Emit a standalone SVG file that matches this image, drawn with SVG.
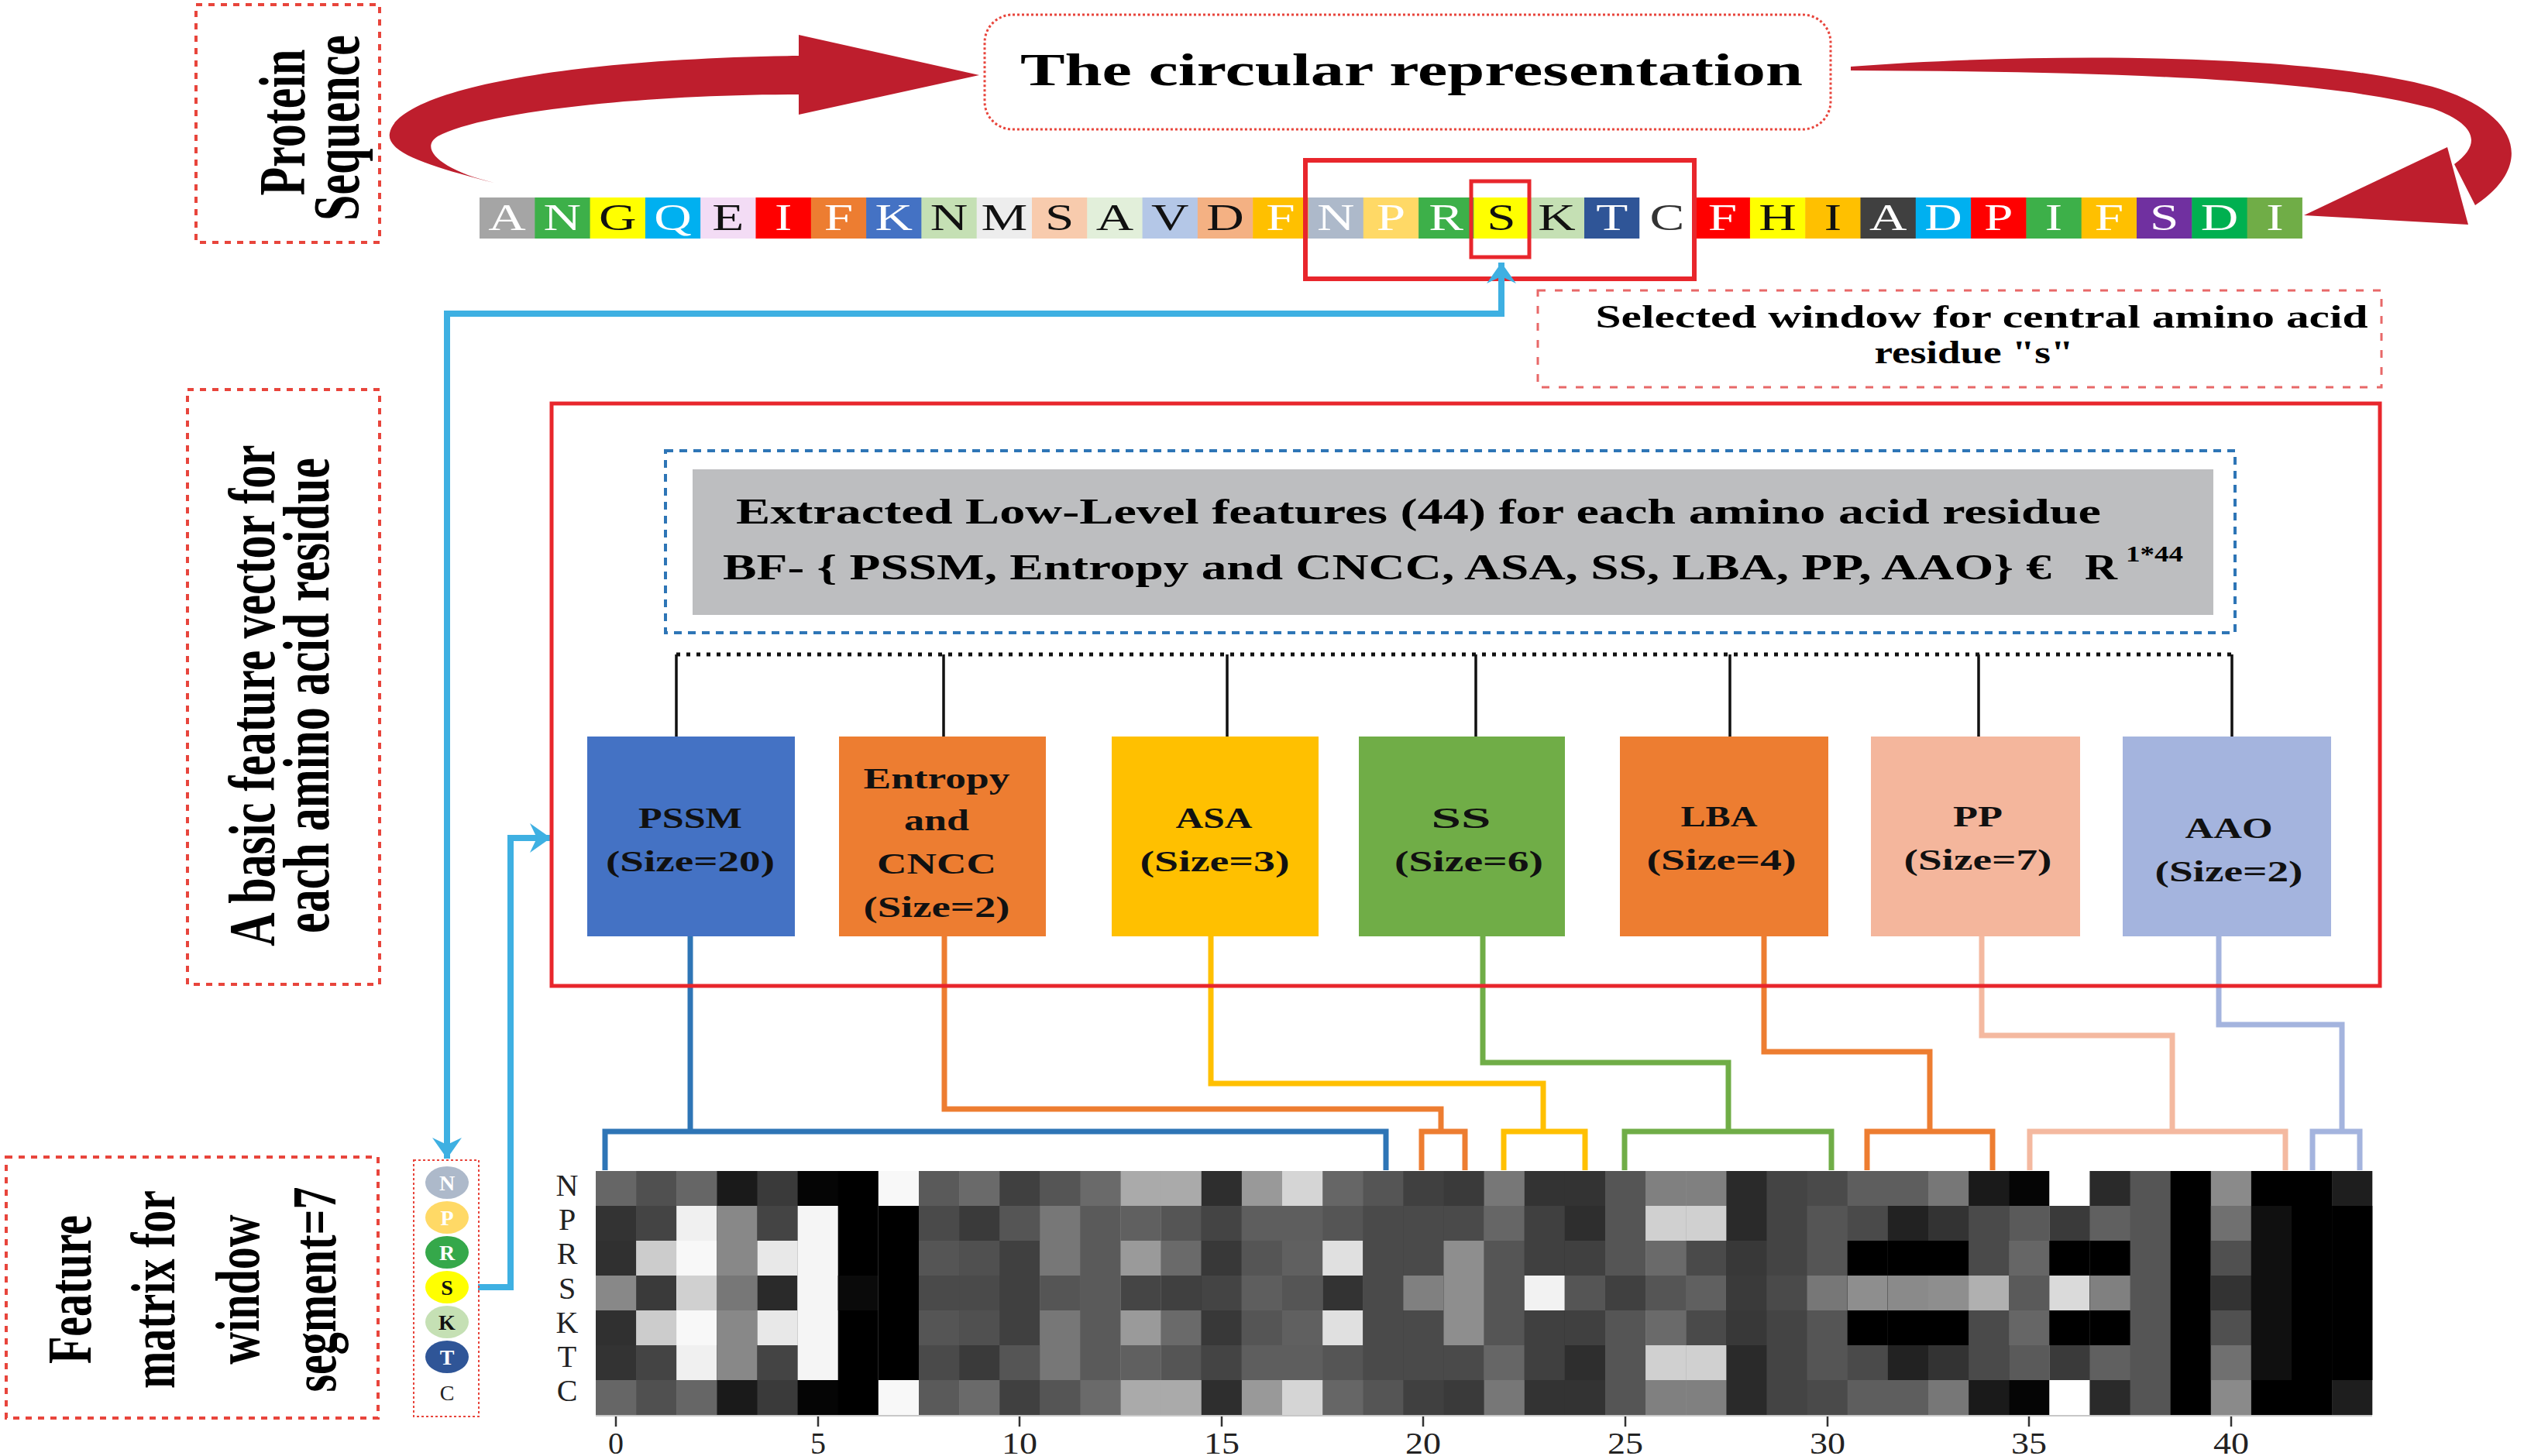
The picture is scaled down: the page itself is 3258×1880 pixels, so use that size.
<svg xmlns="http://www.w3.org/2000/svg" width="3258" height="1880" viewBox="0 0 3258 1880">
<style>
text{font-family:"Liberation Serif","Times New Roman",serif;}
.b{font-weight:bold;}
.lbl{fill:none;stroke:#E8453C;stroke-width:4;stroke-dasharray:8 8;}
.rot{font-weight:bold;font-size:60px;text-anchor:middle;fill:#000;}
.seq text{font-size:48px;text-anchor:middle;}
.w{fill:#fff;}
.k{fill:#111;}
.fb{font-weight:bold;font-size:38px;text-anchor:middle;fill:#111;}
.blue{fill:none;stroke:#3EB0E2;stroke-width:8;}
.dg{fill:none;stroke-width:7;}
.blk{stroke:#111;stroke-width:3.5;fill:none;}
.rl{font-size:40px;text-anchor:middle;fill:#222;}
.tick{stroke:#333;stroke-width:2.5;}
.res text{font-weight:bold;font-size:28px;text-anchor:middle;}
</style>
<defs>
<marker id="ab" markerUnits="userSpaceOnUse" viewBox="0 0 28 38" markerWidth="28" markerHeight="38" refX="27" refY="19" orient="auto">
<path d="M0,0 L27,19 L0,38 L9,19 Z" fill="#3EB0E2"/>
</marker>
</defs>
<rect width="3258" height="1880" fill="#fff"/>

<!-- label boxes -->
<g id="protein-sequence-label">
<rect x="253" y="6" width="237" height="307" class="lbl"/>
<text class="rot" transform="translate(393,158) rotate(-90) scale(1,1.4)">Protein</text>
<text class="rot" transform="translate(463,165) rotate(-90) scale(1,1.4)">Sequence</text>
</g>
<g id="basic-feature-label">
<rect x="242" y="503" width="248" height="768" class="lbl"/>
<text class="rot" transform="translate(354,898) rotate(-90) scale(1,1.4)">A basic feature vector for</text>
<text class="rot" transform="translate(424,898) rotate(-90) scale(1,1.4)">each amino acid residue</text>
</g>
<g id="feature-matrix-label">
<rect x="8" y="1494" width="480" height="337" class="lbl"/>
<text class="rot" style="font-size:58px" transform="translate(117,1665) rotate(-90) scale(1,1.4)">Feature</text>
<text class="rot" style="font-size:58px" transform="translate(225,1665) rotate(-90) scale(1,1.4)">matrix for</text>
<text class="rot" style="font-size:58px" transform="translate(334,1665) rotate(-90) scale(1,1.4)">window</text>
<text class="rot" style="font-size:58px" transform="translate(433,1665) rotate(-90) scale(1,1.4)">segment=7</text>
</g>

<!-- circular arrows -->
<g id="circular-arrows" fill="#BE1E2D">
<path d="M638,236 C560,216 498,198 503,172 C512,118 720,76 1031,72 L1031,122 C820,122 620,146 565,176 C540,192 570,220 638,236 Z"/>
<path d="M1031,45 L1264,97 L1031,148 Z"/>
<path d="M2389,86 C2650,66 3000,70 3150,115 C3255,150 3270,215 3195,265 L3168,212 C3205,185 3195,160 3140,140 C2990,98 2660,92 2389,91 Z"/>
<path d="M2974,278 L3159,190 L3186,290 Z"/>
</g>

<g id="circular-representation">
<rect x="1271" y="19" width="1092" height="148" rx="36" fill="none" stroke="#E8453C" stroke-width="3" stroke-dasharray="3 3"/>
<text class="b" x="1317" y="110" font-size="60" textLength="1010" lengthAdjust="spacingAndGlyphs">The circular representation</text>
</g>

<!-- sequence -->
<g id="sequence">
<rect x="619.0" y="255" width="71.8" height="53" fill="#A5A5A5"/>
<rect x="690.3" y="255" width="71.8" height="53" fill="#3DB049"/>
<rect x="761.6" y="255" width="71.8" height="53" fill="#FFFF00"/>
<rect x="832.9" y="255" width="71.8" height="53" fill="#00B0F0"/>
<rect x="904.2" y="255" width="71.8" height="53" fill="#F3DCF5"/>
<rect x="975.5" y="255" width="71.8" height="53" fill="#FF0000"/>
<rect x="1046.8" y="255" width="71.8" height="53" fill="#ED7D31"/>
<rect x="1118.1" y="255" width="71.8" height="53" fill="#4472C4"/>
<rect x="1189.4" y="255" width="71.8" height="53" fill="#C5E0B4"/>
<rect x="1260.7" y="255" width="71.8" height="53" fill="#EDEDED"/>
<rect x="1332.0" y="255" width="71.8" height="53" fill="#F8CBAD"/>
<rect x="1403.3" y="255" width="71.8" height="53" fill="#E2EFDA"/>
<rect x="1474.6" y="255" width="71.8" height="53" fill="#B4C7E7"/>
<rect x="1545.9" y="255" width="71.8" height="53" fill="#F4B183"/>
<rect x="1617.2" y="255" width="71.8" height="53" fill="#FFC000"/>
<rect x="1688.5" y="255" width="71.8" height="53" fill="#ADB9CA"/>
<rect x="1759.8" y="255" width="71.8" height="53" fill="#FFD966"/>
<rect x="1831.1" y="255" width="71.8" height="53" fill="#3DB049"/>
<rect x="1902.4" y="255" width="71.8" height="53" fill="#FFFF00"/>
<rect x="1973.7" y="255" width="71.8" height="53" fill="#C5E0B4"/>
<rect x="2045.0" y="255" width="71.8" height="53" fill="#2F5597"/>
<rect x="2116.3" y="255" width="71.8" height="53" fill="#FFFFFF"/>
<rect x="2187.6" y="255" width="71.8" height="53" fill="#FF0000"/>
<rect x="2258.9" y="255" width="71.8" height="53" fill="#FFFF00"/>
<rect x="2330.2" y="255" width="71.8" height="53" fill="#FFC000"/>
<rect x="2401.5" y="255" width="71.8" height="53" fill="#404040"/>
<rect x="2472.8" y="255" width="71.8" height="53" fill="#00B0F0"/>
<rect x="2544.1" y="255" width="71.8" height="53" fill="#FF0000"/>
<rect x="2615.4" y="255" width="71.8" height="53" fill="#3DB049"/>
<rect x="2686.7" y="255" width="71.8" height="53" fill="#FFC000"/>
<rect x="2758.0" y="255" width="71.8" height="53" fill="#7030A0"/>
<rect x="2829.3" y="255" width="71.8" height="53" fill="#00B050"/>
<rect x="2900.6" y="255" width="71.3" height="53" fill="#70AD47"/>
<g class="seq" transform="scale(1.4,1)">
<text x="467.6" y="297" class="w">A</text>
<text x="518.5" y="297" class="w">N</text>
<text x="569.5" y="297" class="k">G</text>
<text x="620.4" y="297" class="w">Q</text>
<text x="671.3" y="297" class="k">E</text>
<text x="722.3" y="297" class="w">I</text>
<text x="773.2" y="297" class="w">F</text>
<text x="824.1" y="297" class="w">K</text>
<text x="875.0" y="297" class="k">N</text>
<text x="926.0" y="297" class="k">M</text>
<text x="976.9" y="297" class="k">S</text>
<text x="1027.8" y="297" class="k">A</text>
<text x="1078.8" y="297" class="k">V</text>
<text x="1129.7" y="297" class="k">D</text>
<text x="1180.6" y="297" class="w">F</text>
<text x="1231.6" y="297" class="w">N</text>
<text x="1282.5" y="297" class="w">P</text>
<text x="1333.4" y="297" class="w">R</text>
<text x="1384.3" y="297" class="k">S</text>
<text x="1435.3" y="297" class="k">K</text>
<text x="1486.2" y="297" class="w">T</text>
<text x="1537.1" y="297" fill="#333">C</text>
<text x="1588.1" y="297" class="w">F</text>
<text x="1639.0" y="297" class="k">H</text>
<text x="1689.9" y="297" class="k">I</text>
<text x="1740.9" y="297" class="w">A</text>
<text x="1791.8" y="297" class="w">D</text>
<text x="1842.7" y="297" class="w">P</text>
<text x="1893.6" y="297" class="w">I</text>
<text x="1944.6" y="297" class="w">F</text>
<text x="1995.5" y="297" class="w">S</text>
<text x="2046.4" y="297" class="w">D</text>
<text x="2097.4" y="297" class="w">I</text>
</g>
</g>

<g id="selected-window">
<rect x="1685" y="207" width="502" height="153" fill="none" stroke="#E8262C" stroke-width="6"/>
<rect x="1899" y="234" width="75" height="98" fill="none" stroke="#E8262C" stroke-width="5"/>
</g>

<g id="selected-window-note">
<rect x="1985" y="375" width="1089" height="125" fill="none" stroke="#E86868" stroke-width="3" stroke-dasharray="10 12"/>
<text class="b" x="2558" y="423" font-size="42" text-anchor="middle" textLength="997" lengthAdjust="spacingAndGlyphs">Selected window for central amino acid</text>
<text class="b" x="2548" y="469" font-size="42" text-anchor="middle" textLength="257" lengthAdjust="spacingAndGlyphs">residue "s"</text>
</g>

<!-- connectors -->
<g id="connectors">
<path class="blue" d="M577,405 H1938 V339" marker-end="url(#ab)"/>
<path class="blue" d="M577,401 V1496" marker-end="url(#ab)"/>
<path class="blue" d="M617,1662 H659 V1082 H711" marker-end="url(#ab)"/>
<path d="M873,845 H2881" stroke="#111" stroke-width="5" stroke-dasharray="5 8" fill="none"/>
<path class="blk" d="M873,845 V951 M1218,845 V951 M1584,845 V951 M1905,845 V951 M2233,845 V951 M2554,845 V951 M2881,845 V951"/>
<path class="dg" stroke="#2E75B6" d="M891,1209 V1461 M781,1511 V1461 H1789 V1511"/>
<path class="dg" stroke="#ED7D31" d="M1219,1209 V1432 H1860 V1461 M1835,1511 V1461 H1891 V1511"/>
<path class="dg" stroke="#FFC000" d="M1563,1209 V1399 H1992 V1461 M1941,1511 V1461 H2046 V1511"/>
<path class="dg" stroke="#70AD47" d="M1914,1209 V1372 H2231 V1461 M2097,1511 V1461 H2364 V1511"/>
<path class="dg" stroke="#ED7D31" d="M2277,1209 V1358 H2491 V1461 M2410,1511 V1461 H2572 V1511"/>
<path class="dg" stroke="#F4B9A0" d="M2558,1209 V1337 H2804 V1461 M2620,1511 V1461 H2950 V1511"/>
<path class="dg" stroke="#A4B4DE" d="M2864,1209 V1323 H3023 V1461 M2985,1511 V1461 H3046 V1511"/>
</g>

<g id="basic-feature-frame">
<rect x="712" y="521" width="2360" height="752" fill="none" stroke="#E8262C" stroke-width="5"/>
</g>

<g id="low-level-features">
<rect x="859" y="582" width="2026" height="235" fill="none" stroke="#2E75B6" stroke-width="4" stroke-dasharray="10 8"/>
<rect x="894" y="606" width="1963" height="188" fill="#BDBEC0"/>
<text class="b" x="950" y="676" font-size="46" textLength="1762" lengthAdjust="spacingAndGlyphs">Extracted Low-Level features (44) for each amino acid residue</text>
<text class="b" x="933" y="748" font-size="46" textLength="1715" lengthAdjust="spacingAndGlyphs">BF- { PSSM, Entropy and CNCC, ASA, SS, LBA, PP, AAO} €</text>
<text class="b" x="2691" y="748" font-size="46" textLength="42" lengthAdjust="spacingAndGlyphs">R</text>
<text class="b" x="2744" y="725" font-size="30" textLength="74" lengthAdjust="spacingAndGlyphs">1*44</text>
</g>

<g id="pssm"><rect x="758" y="951" width="268" height="258" fill="#4472C4"/>
<text class="fb" x="891" y="1069" textLength="134" lengthAdjust="spacingAndGlyphs">PSSM</text>
<text class="fb" x="891" y="1125" textLength="218" lengthAdjust="spacingAndGlyphs">(Size=20)</text></g>
<g id="entropy-cncc"><rect x="1083" y="951" width="267" height="258" fill="#ED7D31"/>
<text class="fb" x="1209" y="1018" textLength="189" lengthAdjust="spacingAndGlyphs">Entropy</text>
<text class="fb" x="1209" y="1072" textLength="84" lengthAdjust="spacingAndGlyphs">and</text>
<text class="fb" x="1209" y="1128" textLength="154" lengthAdjust="spacingAndGlyphs">CNCC</text>
<text class="fb" x="1209" y="1184" textLength="189" lengthAdjust="spacingAndGlyphs">(Size=2)</text></g>
<g id="asa"><rect x="1435" y="951" width="267" height="258" fill="#FFC000"/>
<text class="fb" x="1567" y="1069" textLength="99" lengthAdjust="spacingAndGlyphs">ASA</text>
<text class="fb" x="1568" y="1125" textLength="193" lengthAdjust="spacingAndGlyphs">(Size=3)</text></g>
<g id="ss"><rect x="1754" y="951" width="266" height="258" fill="#70AD47"/>
<text class="fb" x="1886" y="1069" textLength="77" lengthAdjust="spacingAndGlyphs">SS</text>
<text class="fb" x="1896" y="1125" textLength="192" lengthAdjust="spacingAndGlyphs">(Size=6)</text></g>
<g id="lba"><rect x="2091" y="951" width="269" height="258" fill="#ED7D31"/>
<text class="fb" x="2219" y="1067" textLength="99" lengthAdjust="spacingAndGlyphs">LBA</text>
<text class="fb" x="2222" y="1123" textLength="193" lengthAdjust="spacingAndGlyphs">(Size=4)</text></g>
<g id="pp"><rect x="2415" y="951" width="270" height="258" fill="#F4B69C"/>
<text class="fb" x="2553" y="1067" textLength="64" lengthAdjust="spacingAndGlyphs">PP</text>
<text class="fb" x="2553" y="1123" textLength="191" lengthAdjust="spacingAndGlyphs">(Size=7)</text></g>
<g id="aao"><rect x="2740" y="951" width="269" height="258" fill="#A4B4DE"/>
<text class="fb" x="2877" y="1082" textLength="113" lengthAdjust="spacingAndGlyphs">AAO</text>
<text class="fb" x="2877" y="1138" textLength="191" lengthAdjust="spacingAndGlyphs">(Size=2)</text></g>

<g id="window-residues" class="res">
<rect x="534" y="1498" width="84" height="331" fill="none" stroke="#E8453C" stroke-width="2" stroke-dasharray="3 3"/>
<ellipse cx="577" cy="1527" rx="28" ry="21" fill="#ADB9CA"/><text x="577" y="1537" fill="#fff">N</text>
<ellipse cx="577" cy="1572" rx="28" ry="21" fill="#FFD966"/><text x="577" y="1582" fill="#fff">P</text>
<ellipse cx="577" cy="1617" rx="28" ry="21" fill="#35A84A"/><text x="577" y="1627" fill="#fff">R</text>
<ellipse cx="577" cy="1662" rx="28" ry="21" fill="#FFFF00"/><text x="577" y="1672" fill="#111">S</text>
<ellipse cx="577" cy="1707" rx="28" ry="21" fill="#C5E0B4"/><text x="577" y="1717" fill="#111">K</text>
<ellipse cx="577" cy="1752" rx="28" ry="21" fill="#2F5597"/><text x="577" y="1762" fill="#fff">T</text>
<text x="577" y="1808" fill="#222" style="font-weight:normal">C</text>
</g>

<g id="feature-matrix">
<g id="heatmap">
<rect x="769.0" y="1512" width="52.7" height="315" fill="#666"/><rect x="769.0" y="1557" width="52.7" height="225" fill="#333"/><rect x="769.0" y="1602" width="52.7" height="135" fill="#303030"/><rect x="769.0" y="1647" width="52.7" height="45" fill="#888"/>
<rect x="821.1" y="1512" width="52.7" height="315" fill="#505050"/><rect x="821.1" y="1557" width="52.7" height="225" fill="#444"/><rect x="821.1" y="1602" width="52.7" height="135" fill="#ccc"/><rect x="821.1" y="1647" width="52.7" height="45" fill="#3a3a3a"/>
<rect x="873.2" y="1512" width="52.7" height="315" fill="#666"/><rect x="873.2" y="1557" width="52.7" height="225" fill="#f0f0f0"/><rect x="873.2" y="1602" width="52.7" height="135" fill="#f8f8f8"/><rect x="873.2" y="1647" width="52.7" height="45" fill="#d0d0d0"/>
<rect x="925.4" y="1512" width="52.7" height="315" fill="#1a1a1a"/><rect x="925.4" y="1557" width="52.7" height="225" fill="#888"/><rect x="925.4" y="1602" width="52.7" height="135" fill="#888"/><rect x="925.4" y="1647" width="52.7" height="45" fill="#777"/>
<rect x="977.5" y="1512" width="52.7" height="315" fill="#3a3a3a"/><rect x="977.5" y="1557" width="52.7" height="225" fill="#444"/><rect x="977.5" y="1602" width="52.7" height="135" fill="#e8e8e8"/><rect x="977.5" y="1647" width="52.7" height="45" fill="#2a2a2a"/>
<rect x="1029.6" y="1512" width="52.7" height="315" fill="#050505"/><rect x="1029.6" y="1557" width="52.7" height="225" fill="#f5f5f5"/><rect x="1029.6" y="1602" width="52.7" height="135" fill="#f5f5f5"/><rect x="1029.6" y="1647" width="52.7" height="45" fill="#f5f5f5"/>
<rect x="1081.7" y="1512" width="52.7" height="315" fill="#000"/><rect x="1081.7" y="1647" width="52.7" height="45" fill="#0a0a0a"/>
<rect x="1133.8" y="1512" width="52.7" height="315" fill="#f8f8f8"/><rect x="1133.8" y="1557" width="52.7" height="225" fill="#000"/>
<rect x="1186.0" y="1512" width="52.7" height="315" fill="#5a5a5a"/><rect x="1186.0" y="1557" width="52.7" height="225" fill="#4a4a4a"/><rect x="1186.0" y="1602" width="52.7" height="135" fill="#555"/><rect x="1186.0" y="1647" width="52.7" height="45" fill="#4a4a4a"/>
<rect x="1238.1" y="1512" width="52.7" height="315" fill="#6a6a6a"/><rect x="1238.1" y="1557" width="52.7" height="225" fill="#3a3a3a"/><rect x="1238.1" y="1602" width="52.7" height="135" fill="#505050"/><rect x="1238.1" y="1647" width="52.7" height="45" fill="#4a4a4a"/>
<rect x="1290.2" y="1512" width="52.7" height="315" fill="#404040"/><rect x="1290.2" y="1557" width="52.7" height="225" fill="#555"/><rect x="1290.2" y="1602" width="52.7" height="135" fill="#404040"/><rect x="1290.2" y="1647" width="52.7" height="45" fill="#404040"/>
<rect x="1342.3" y="1512" width="52.7" height="315" fill="#555"/><rect x="1342.3" y="1557" width="52.7" height="225" fill="#777"/><rect x="1342.3" y="1602" width="52.7" height="135" fill="#777"/><rect x="1342.3" y="1647" width="52.7" height="45" fill="#555"/>
<rect x="1394.4" y="1512" width="52.7" height="315" fill="#6a6a6a"/><rect x="1394.4" y="1557" width="52.7" height="225" fill="#5a5a5a"/>
<rect x="1446.6" y="1512" width="52.7" height="315" fill="#aaa"/><rect x="1446.6" y="1557" width="52.7" height="225" fill="#606060"/><rect x="1446.6" y="1602" width="52.7" height="135" fill="#9a9a9a"/><rect x="1446.6" y="1647" width="52.7" height="45" fill="#454545"/>
<rect x="1498.7" y="1512" width="52.7" height="315" fill="#aaa"/><rect x="1498.7" y="1557" width="52.7" height="225" fill="#555"/><rect x="1498.7" y="1602" width="52.7" height="135" fill="#6a6a6a"/><rect x="1498.7" y="1647" width="52.7" height="45" fill="#404040"/>
<rect x="1550.8" y="1512" width="52.7" height="315" fill="#2e2e2e"/><rect x="1550.8" y="1557" width="52.7" height="225" fill="#444"/><rect x="1550.8" y="1602" width="52.7" height="135" fill="#383838"/><rect x="1550.8" y="1647" width="52.7" height="45" fill="#444"/>
<rect x="1602.9" y="1512" width="52.7" height="315" fill="#999"/><rect x="1602.9" y="1557" width="52.7" height="225" fill="#5e5e5e"/><rect x="1602.9" y="1602" width="52.7" height="135" fill="#555"/><rect x="1602.9" y="1647" width="52.7" height="45" fill="#5e5e5e"/>
<rect x="1655.0" y="1512" width="52.7" height="315" fill="#d5d5d5"/><rect x="1655.0" y="1557" width="52.7" height="225" fill="#5e5e5e"/><rect x="1655.0" y="1602" width="52.7" height="135" fill="#606060"/><rect x="1655.0" y="1647" width="52.7" height="45" fill="#555"/>
<rect x="1707.2" y="1512" width="52.7" height="315" fill="#666"/><rect x="1707.2" y="1557" width="52.7" height="225" fill="#555"/><rect x="1707.2" y="1602" width="52.7" height="135" fill="#e0e0e0"/><rect x="1707.2" y="1647" width="52.7" height="45" fill="#333"/>
<rect x="1759.3" y="1512" width="52.7" height="315" fill="#555"/><rect x="1759.3" y="1557" width="52.7" height="225" fill="#4a4a4a"/>
<rect x="1811.4" y="1512" width="52.7" height="315" fill="#404040"/><rect x="1811.4" y="1557" width="52.7" height="225" fill="#4a4a4a"/><rect x="1811.4" y="1647" width="52.7" height="45" fill="#808080"/>
<rect x="1863.5" y="1512" width="52.7" height="315" fill="#3a3a3a"/><rect x="1863.5" y="1557" width="52.7" height="225" fill="#4a4a4a"/><rect x="1863.5" y="1602" width="52.7" height="135" fill="#8e8e8e"/>
<rect x="1915.6" y="1512" width="52.7" height="315" fill="#777"/><rect x="1915.6" y="1557" width="52.7" height="225" fill="#666"/><rect x="1915.6" y="1602" width="52.7" height="135" fill="#555"/>
<rect x="1967.8" y="1512" width="52.7" height="315" fill="#333"/><rect x="1967.8" y="1557" width="52.7" height="225" fill="#404040"/><rect x="1967.8" y="1647" width="52.7" height="45" fill="#f2f2f2"/>
<rect x="2019.9" y="1512" width="52.7" height="315" fill="#333"/><rect x="2019.9" y="1557" width="52.7" height="225" fill="#2e2e2e"/><rect x="2019.9" y="1602" width="52.7" height="135" fill="#404040"/><rect x="2019.9" y="1647" width="52.7" height="45" fill="#555"/>
<rect x="2072.0" y="1512" width="52.7" height="315" fill="#555"/><rect x="2072.0" y="1647" width="52.7" height="45" fill="#404040"/>
<rect x="2124.1" y="1512" width="52.7" height="315" fill="#808080"/><rect x="2124.1" y="1557" width="52.7" height="225" fill="#d0d0d0"/><rect x="2124.1" y="1602" width="52.7" height="135" fill="#6a6a6a"/><rect x="2124.1" y="1647" width="52.7" height="45" fill="#555"/>
<rect x="2176.2" y="1512" width="52.7" height="315" fill="#808080"/><rect x="2176.2" y="1557" width="52.7" height="225" fill="#d0d0d0"/><rect x="2176.2" y="1602" width="52.7" height="135" fill="#4a4a4a"/><rect x="2176.2" y="1647" width="52.7" height="45" fill="#606060"/>
<rect x="2228.4" y="1512" width="52.7" height="315" fill="#2a2a2a"/><rect x="2228.4" y="1602" width="52.7" height="135" fill="#383838"/><rect x="2228.4" y="1647" width="52.7" height="45" fill="#3a3a3a"/>
<rect x="2280.5" y="1512" width="52.7" height="315" fill="#444"/><rect x="2280.5" y="1647" width="52.7" height="45" fill="#4a4a4a"/>
<rect x="2332.6" y="1512" width="52.7" height="315" fill="#4a4a4a"/><rect x="2332.6" y="1557" width="52.7" height="225" fill="#555"/><rect x="2332.6" y="1647" width="52.7" height="45" fill="#777"/>
<rect x="2384.7" y="1512" width="52.7" height="315" fill="#5e5e5e"/><rect x="2384.7" y="1557" width="52.7" height="225" fill="#4a4a4a"/><rect x="2384.7" y="1602" width="52.7" height="135" fill="#000"/><rect x="2384.7" y="1647" width="52.7" height="45" fill="#8e8e8e"/>
<rect x="2436.8" y="1512" width="52.7" height="315" fill="#5e5e5e"/><rect x="2436.8" y="1557" width="52.7" height="225" fill="#222"/><rect x="2436.8" y="1602" width="52.7" height="135" fill="#000"/><rect x="2436.8" y="1647" width="52.7" height="45" fill="#8a8a8a"/>
<rect x="2489.0" y="1512" width="52.7" height="315" fill="#777"/><rect x="2489.0" y="1557" width="52.7" height="225" fill="#333"/><rect x="2489.0" y="1602" width="52.7" height="135" fill="#000"/><rect x="2489.0" y="1647" width="52.7" height="45" fill="#8e8e8e"/>
<rect x="2541.1" y="1512" width="52.7" height="315" fill="#1a1a1a"/><rect x="2541.1" y="1557" width="52.7" height="225" fill="#4a4a4a"/><rect x="2541.1" y="1647" width="52.7" height="45" fill="#b0b0b0"/>
<rect x="2593.2" y="1512" width="52.7" height="315" fill="#050505"/><rect x="2593.2" y="1557" width="52.7" height="225" fill="#5a5a5a"/><rect x="2593.2" y="1602" width="52.7" height="135" fill="#666"/><rect x="2593.2" y="1647" width="52.7" height="45" fill="#5a5a5a"/>
<rect x="2645.3" y="1512" width="52.7" height="315" fill="#fff"/><rect x="2645.3" y="1557" width="52.7" height="225" fill="#3a3a3a"/><rect x="2645.3" y="1602" width="52.7" height="135" fill="#000"/><rect x="2645.3" y="1647" width="52.7" height="45" fill="#dadada"/>
<rect x="2697.4" y="1512" width="52.7" height="315" fill="#2a2a2a"/><rect x="2697.4" y="1557" width="52.7" height="225" fill="#606060"/><rect x="2697.4" y="1602" width="52.7" height="135" fill="#000"/><rect x="2697.4" y="1647" width="52.7" height="45" fill="#808080"/>
<rect x="2749.6" y="1512" width="52.7" height="315" fill="#555"/>
<rect x="2801.7" y="1512" width="52.7" height="315" fill="#000"/>
<rect x="2853.8" y="1512" width="52.7" height="315" fill="#8a8a8a"/><rect x="2853.8" y="1557" width="52.7" height="225" fill="#707070"/><rect x="2853.8" y="1602" width="52.7" height="135" fill="#505050"/><rect x="2853.8" y="1647" width="52.7" height="45" fill="#333"/>
<rect x="2905.9" y="1512" width="52.7" height="315" fill="#000"/><rect x="2905.9" y="1557" width="52.7" height="225" fill="#101010"/>
<rect x="2958.0" y="1512" width="52.7" height="315" fill="#000"/>
<rect x="3010.2" y="1512" width="52.1" height="315" fill="#1e1e1e"/><rect x="3010.2" y="1557" width="52.1" height="225" fill="#000"/>
</g>
<line x1="769" y1="1828" x2="3062" y2="1828" stroke="#c8c8c8" stroke-width="2"/>
<g id="row-labels">
<text class="rl" x="732" y="1544">N</text>
<text class="rl" x="732" y="1588">P</text>
<text class="rl" x="732" y="1632">R</text>
<text class="rl" x="732" y="1677">S</text>
<text class="rl" x="732" y="1721">K</text>
<text class="rl" x="732" y="1765">T</text>
<text class="rl" x="732" y="1809">C</text>
</g>
<g id="axis">
<path class="tick" d="M795,1829 V1842 M1056,1829 V1842 M1316,1829 V1842 M1577,1829 V1842 M1837,1829 V1842 M2098,1829 V1842 M2359,1829 V1842 M2619,1829 V1842 M2880,1829 V1842"/>
<text class="rl" x="795" y="1877">0</text>
<text class="rl" x="1056" y="1877">5</text>
<text class="rl" x="1316" y="1877" textLength="46" lengthAdjust="spacingAndGlyphs">10</text>
<text class="rl" x="1577" y="1877" textLength="46" lengthAdjust="spacingAndGlyphs">15</text>
<text class="rl" x="1837" y="1877" textLength="46" lengthAdjust="spacingAndGlyphs">20</text>
<text class="rl" x="2098" y="1877" textLength="46" lengthAdjust="spacingAndGlyphs">25</text>
<text class="rl" x="2359" y="1877" textLength="46" lengthAdjust="spacingAndGlyphs">30</text>
<text class="rl" x="2619" y="1877" textLength="46" lengthAdjust="spacingAndGlyphs">35</text>
<text class="rl" x="2880" y="1877" textLength="46" lengthAdjust="spacingAndGlyphs">40</text>
</g>
</g>
</svg>
